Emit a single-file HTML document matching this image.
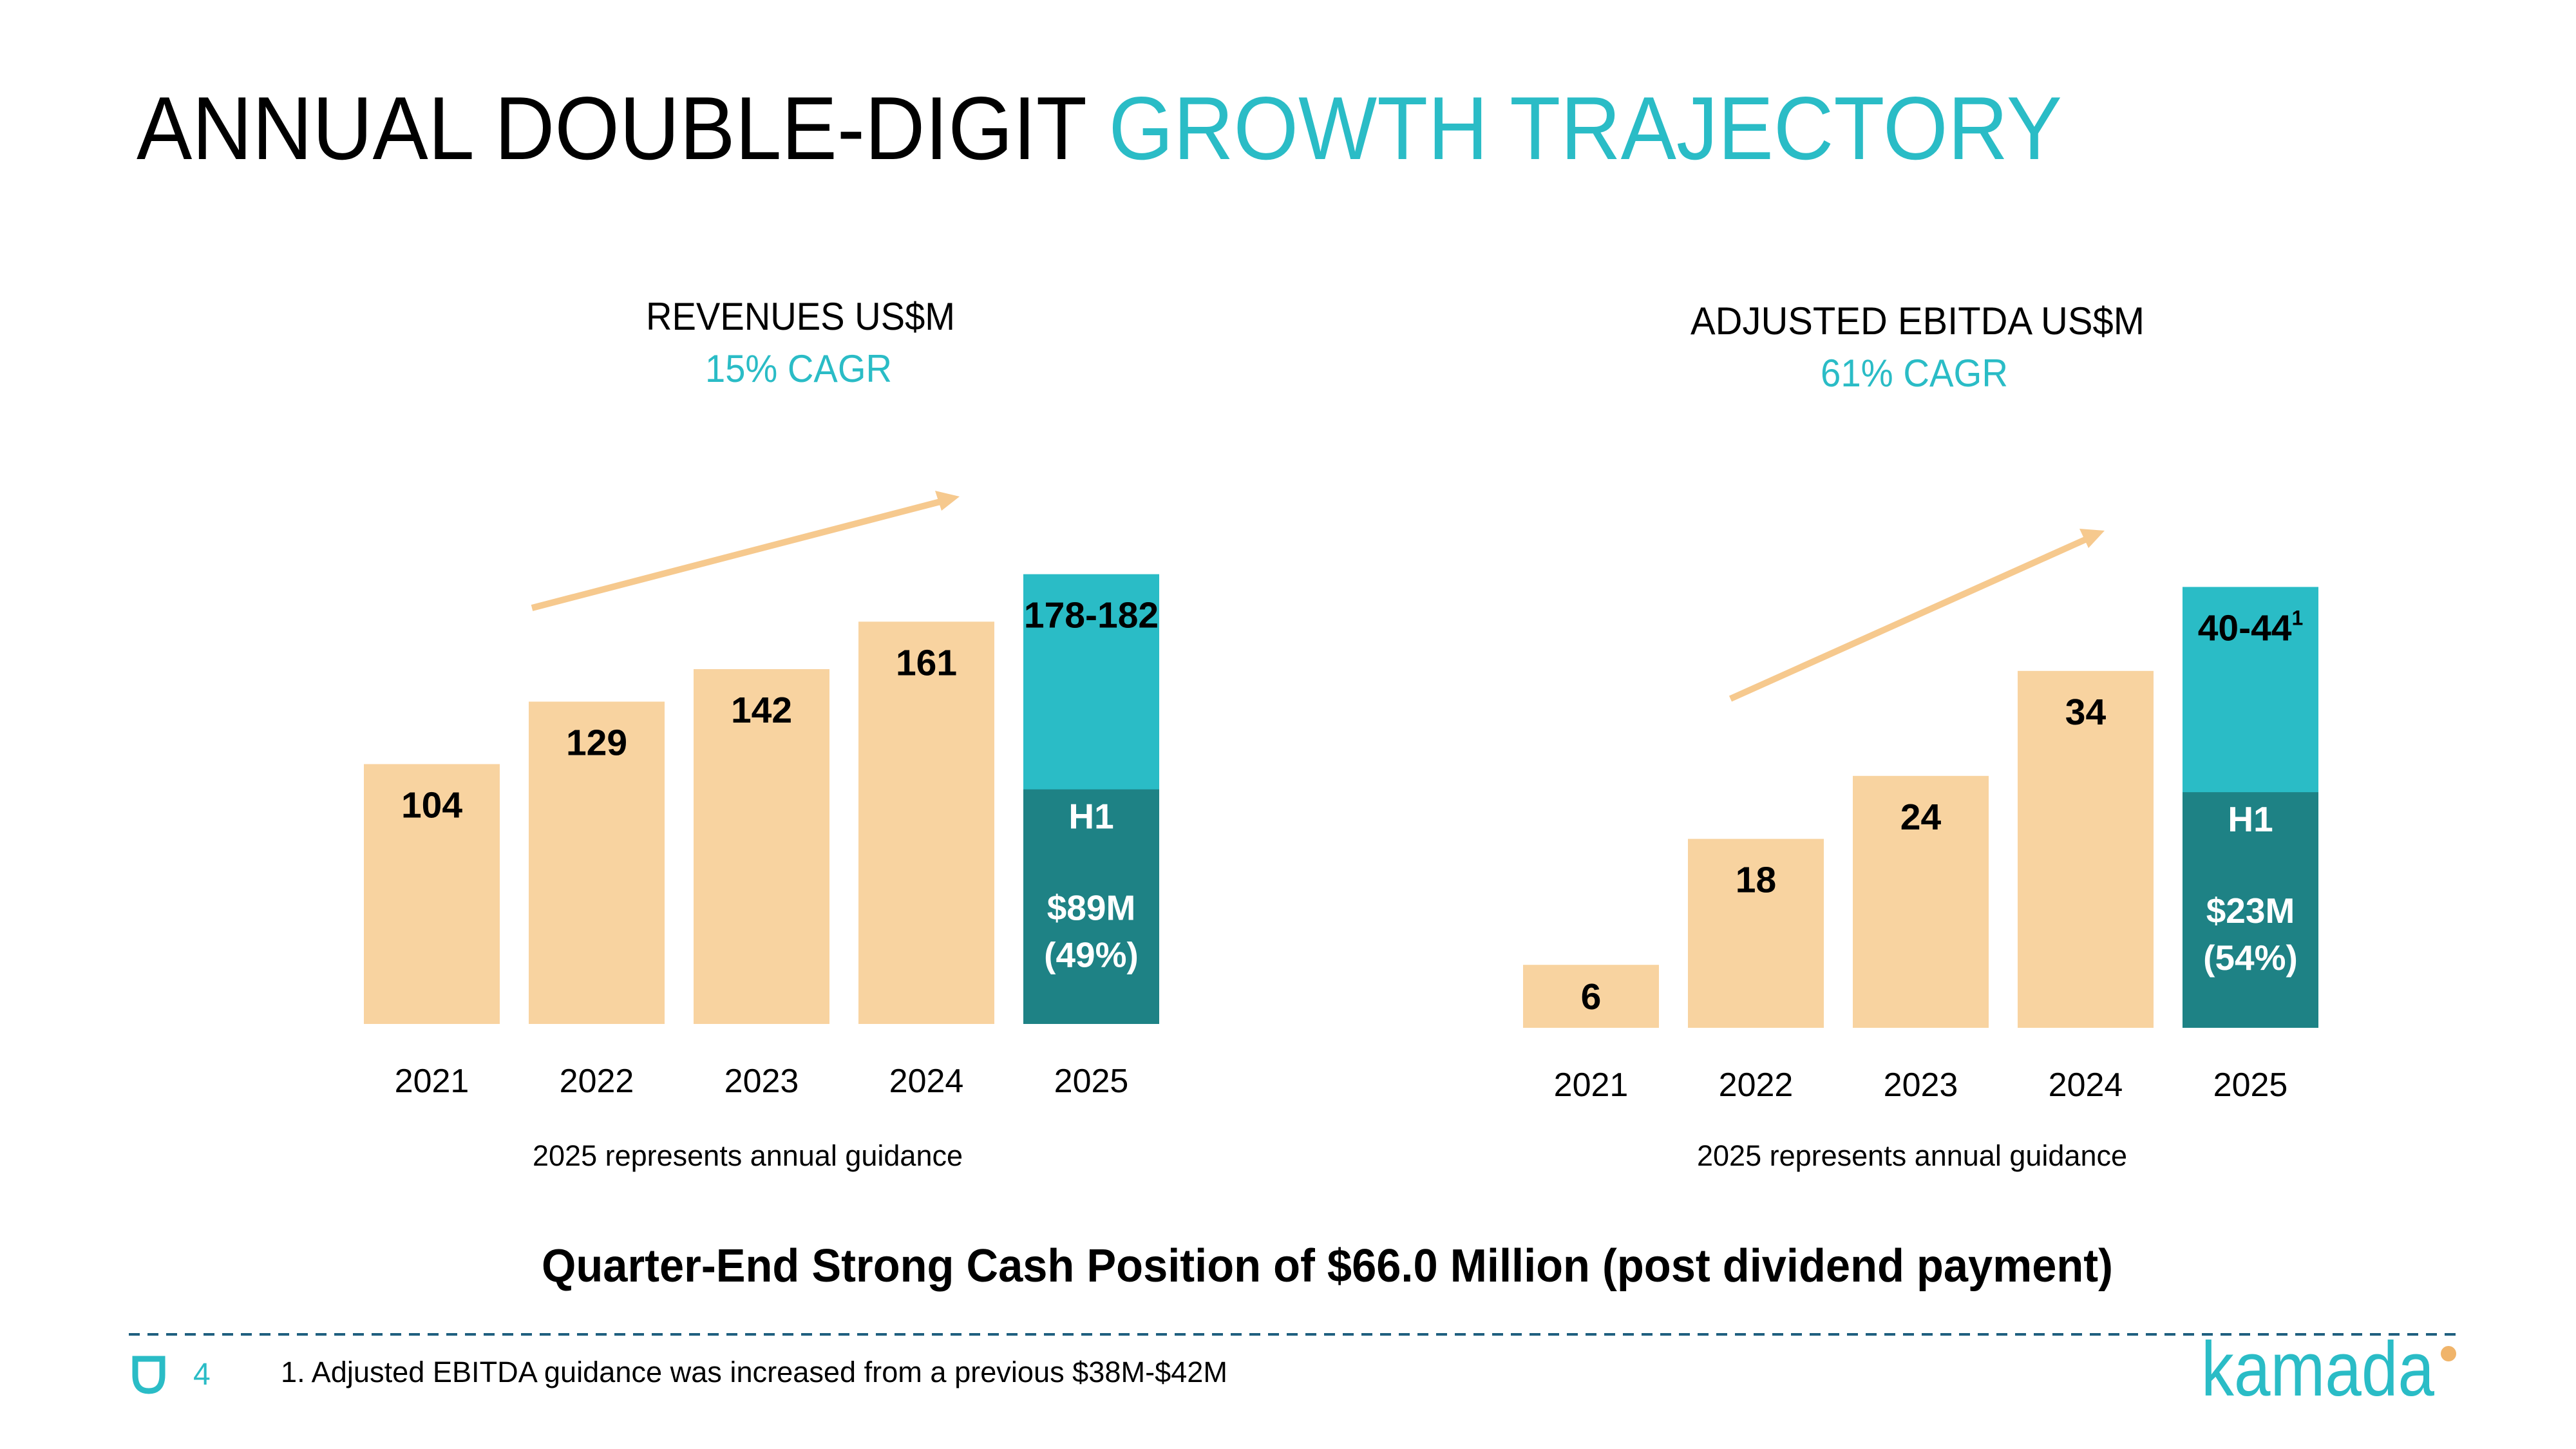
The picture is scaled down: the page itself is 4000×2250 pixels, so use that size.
<!DOCTYPE html>
<html><head><meta charset="utf-8"><style>
html,body{margin:0;padding:0;background:#fff;}
svg{display:block;font-family:"Liberation Sans",sans-serif;}
</style></head><body>
<svg id="s" width="4000" height="2250" viewBox="0 0 4000 2250" xmlns="http://www.w3.org/2000/svg">
<text x="212" y="247" font-size="139" textLength="2990" lengthAdjust="spacingAndGlyphs"><tspan fill="#000">ANNUAL DOUBLE-DIGIT </tspan><tspan fill="#2abcc6">GROWTH TRAJECTORY</tspan></text>

<text x="1003" y="512" font-size="60" textLength="480" lengthAdjust="spacingAndGlyphs" fill="#000">REVENUES US$M</text>
<text x="1095" y="593" font-size="60" textLength="290" lengthAdjust="spacingAndGlyphs" fill="#2abcc6">15% CAGR</text>
<text x="2625" y="519" font-size="60" textLength="705" lengthAdjust="spacingAndGlyphs" fill="#000">ADJUSTED EBITDA US$M</text>
<text x="2827" y="600" font-size="60" textLength="291" lengthAdjust="spacingAndGlyphs" fill="#2abcc6">61% CAGR</text>

<g id="revChart"></g>
<g id="ebChart"></g>

<line x1="826" y1="944" x2="1460" y2="779" stroke="#f6c98e" stroke-width="10"/>
<polygon points="1490,771 1452,762 1462,793" fill="#f6c98e"/>
<line x1="2687" y1="1085" x2="3240" y2="837" stroke="#f6c98e" stroke-width="10"/>
<polygon points="3268,824 3229,821 3243,851" fill="#f6c98e"/>

<text x="1161" y="1810" font-size="45" text-anchor="middle" fill="#000">2025 represents annual guidance</text>
<text x="2969" y="1810" font-size="45" text-anchor="middle" fill="#000">2025 represents annual guidance</text>

<text x="841" y="1990" font-size="72" font-weight="bold" textLength="2440" lengthAdjust="spacingAndGlyphs" fill="#000">Quarter-End Strong Cash Position of $66.0 Million (post dividend payment)</text>

<line x1="200" y1="2072" x2="3815" y2="2072" stroke="#1f5f7f" stroke-width="4" stroke-dasharray="17,12"/>
<path d="M210,2110 L252,2110 L252,2135 Q252,2160 231,2160 Q210,2160 210,2135 Z" fill="none" stroke="#2abcc6" stroke-width="9"/>
<text x="300" y="2150" font-size="48" fill="#2abcc6">4</text>
<text x="436" y="2146" font-size="45" textLength="1470" lengthAdjust="spacingAndGlyphs" fill="#000">1. Adjusted EBITDA guidance was increased from a previous $38M-$42M</text>
<text x="3418" y="2167" font-size="120" textLength="362" lengthAdjust="spacingAndGlyphs" fill="#2abcc6">kamada</text>
<circle cx="3802" cy="2102" r="12" fill="#f0b46a"/>
</svg>
<script>
const revYears = ["2021","2022","2023","2024","2025"];
const revValues = [104,129,142,161,180];
const revLabels = ["104","129","142","161","178-182"];
const revH1 = 89;
const revH1Pct = "(49%)";
const ebYears = ["2021","2022","2023","2024","2025"];
const ebValues = [6,18,24,34,42];
const ebLabels = ["6","18","24","34","40-44"];
const ebH1 = 23;
const ebH1Pct = "(54%)";

const NS = "http://www.w3.org/2000/svg";
function mk(tag, attrs, parent){const e=document.createElementNS(NS,tag);for(const k in attrs)e.setAttribute(k,attrs[k]);parent.appendChild(e);return e;}

function drawChart(g, years, values, labels, h1, h1pct, x0, base, scale, sup, prefix, h1k){
  const pitch=256, w=211;
  const xAt=i=>x0+i*pitch;
  const yAt=v=>base-v*scale;
  values.forEach((v,i)=>{
    const last=i===values.length-1;
    const r=mk('rect',{x:xAt(i),y:yAt(v),width:w,height:base-yAt(v),fill:last?'#2abcc6':'#f8d3a0'},g);
    
    
    const cx=xAt(i)+w/2;
    let ly=yAt(v)+83;
    if(base-yAt(v)<150) ly=(yAt(v)+base)/2+20;
    const t=mk('text',{x:cx,y:ly,'font-size':57,'font-weight':'bold','text-anchor':'middle',fill:'#000'},g);
    t.textContent=labels[i];
    if(last && sup){const s=mk('tspan',{'font-size':32,dy:-24},t);s.textContent='1';}
    
    
    const yl=mk('text',{x:cx,y:base+106,'font-size':52,'text-anchor':'middle',fill:'#000'},g);
    yl.textContent=years[i];
    
    
    if(last){
      const sy=yAt(h1*h1k);
      const hr=mk('rect',{x:xAt(i),y:sy,width:w,height:base-sy,fill:'#1e8285'},g);
      
      
      const lines=[['H1',61],['$'+h1+'M',203],[h1pct,276]];
      lines.forEach((l,j)=>{
        const tt=mk('text',{x:cx,y:sy+l[1],'font-size':55,'font-weight':'bold','text-anchor':'middle',fill:'#fff'},g);
        tt.textContent=l[0];
        
        
      });
    }
  });
}
drawChart(document.getElementById('revChart'),revYears,revValues,revLabels,revH1,revH1Pct,565,1590,3.88,false,'revenues',1.055);
drawChart(document.getElementById('ebChart'),ebYears,ebValues,ebLabels,ebH1,ebH1Pct,2365,1596,16.3,true,'ebitda',0.976);
</script>
</body></html>
